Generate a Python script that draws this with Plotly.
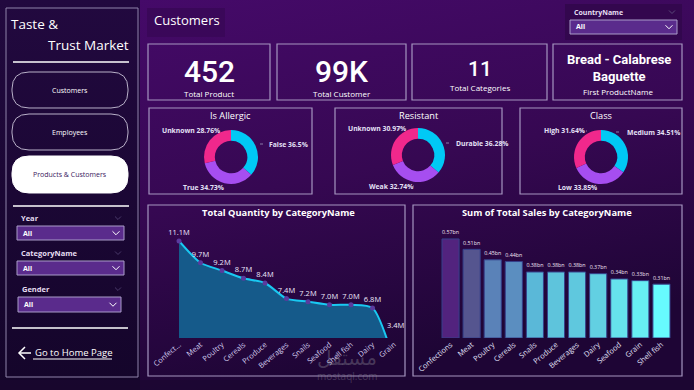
import base64
import plotly.graph_objects as go

W, H = 694, 390

# ---------------- data ----------------
kpi_values = ["452", "99K", "11", "Bread - Calabrese<br>Baguette"]
kpi_labels = ["Total Product", "Total Customer", "Total Categories", "First ProductName"]

allergic_labels = ["False", "True", "Unknown"]
allergic_values = [36.5, 34.73, 28.76]
resistant_labels = ["Durable", "Weak", "Unknown"]
resistant_values = [36.28, 32.74, 30.97]
class_labels = ["Medium", "Low", "High"]
class_values = [34.51, 33.85, 31.64]

qty_categories = ["Confections", "Meat", "Poultry", "Cereals", "Produce", "Beverages",
                  "Snails", "Seafood", "Shell fish", "Dairy", "Grain"]
qty_ticklabels = ["Confect...", "Meat", "Poultry", "Cereals", "Produce", "Beverages",
                  "Snails", "Seafood", "Shell fish", "Dairy", "Grain"]
qty_values = [11.1, 9.7, 9.2, 8.7, 8.4, 7.4, 7.2, 7.0, 7.0, 6.8, 3.4]

sales_categories = ["Confections", "Meat", "Poultry", "Cereals", "Snails", "Produce",
                    "Beverages", "Dairy", "Seafood", "Grain", "Shell fish"]
sales_values = [0.57, 0.51, 0.45, 0.44, 0.38, 0.38, 0.38, 0.37, 0.34, 0.33, 0.31]

slicers = ["Year", "CategoryName", "Gender"]
nav_buttons = ["Customers", "Employees", "Products & Customers"]

# ---------------- style ----------------
FONT = "Open Sans"
CYAN, PURPLE, PINK = "#00c9f5", "#a64ef0", "#f0288c"
BORDER = "#a596c0"
bar_colors = ["#52237e", "#55558f", "#5a82b8", "#5b8ec0", "#5ab8d8", "#5ec4dc",
              "#5fc8de", "#62d0e2", "#66e2ec", "#67eef3", "#67fbfe"]


def px(x):
    return x / W


def py(y):
    return 1 - y / H


shapes = []
annotations = []


def rect(x0, y0, x1, y1, line=BORDER, fill=None, width=1, opacity=1):
    shapes.append(dict(type="rect", xref="paper", yref="paper",
                       x0=px(x0), x1=px(x1), y0=py(y1), y1=py(y0),
                       line=dict(color=line if line else "rgba(0,0,0,0)", width=width if line else 0),
                       fillcolor=fill if fill else "rgba(0,0,0,0)", opacity=opacity,
                       layer="below"))


def hline(x0, x1, y, color="#ffffff", width=1.5, dash="solid"):
    shapes.append(dict(type="line", xref="paper", yref="paper",
                       x0=px(x0), x1=px(x1), y0=py(y), y1=py(y),
                       line=dict(color=color, width=width, dash=dash)))


def path(pts, color, width=1):
    d = "M " + " L ".join(f"{px(x):.5f},{py(y):.5f}" for x, y in pts)
    shapes.append(dict(type="path", xref="paper", yref="paper", path=d,
                       line=dict(color=color, width=width),
                       fillcolor="rgba(0,0,0,0)"))


def rrect(x0, y0, x1, y1, r, line, fill=None, width=1):
    P = lambda x, y: f"{px(x):.5f},{py(y):.5f}"
    d = (f"M {P(x0 + r, y0)} L {P(x1 - r, y0)} Q {P(x1, y0)} {P(x1, y0 + r)} "
         f"L {P(x1, y1 - r)} Q {P(x1, y1)} {P(x1 - r, y1)} L {P(x0 + r, y1)} "
         f"Q {P(x0, y1)} {P(x0, y1 - r)} L {P(x0, y0 + r)} Q {P(x0, y0)} {P(x0 + r, y0)} Z")
    shapes.append(dict(type="path", xref="paper", yref="paper", path=d,
                       line=dict(color=line, width=width),
                       fillcolor=fill if fill else "rgba(0,0,0,0)"))


def ann(x, y, text, size=8, color="#ffffff", xanchor="center", family=FONT,
        yanchor="middle", weight="normal"):
    annotations.append(dict(x=px(x), y=py(y), xref="paper", yref="paper", text=text,
                            showarrow=False, xanchor=xanchor, yanchor=yanchor,
                            font=dict(size=size, color=color, family=family, weight=weight)))


def chevron(x, y, color="#ffffff", s=3.5, width=1):
    path([(x - s, y - s / 2), (x, y + s / 2), (x + s, y - s / 2)], color, width)


# ---------------- background (svg gradient) ----------------
svg = f'''<svg xmlns="http://www.w3.org/2000/svg" width="{W}" height="{H}" preserveAspectRatio="none">
<defs>
<linearGradient id="g" x1="0" y1="0" x2="0.35" y2="1">
<stop offset="0" stop-color="#470a6c"/><stop offset="0.55" stop-color="#360852"/><stop offset="1" stop-color="#1e0535"/>
</linearGradient>
<linearGradient id="l" x1="0" y1="0" x2="0" y2="1">
<stop offset="0" stop-color="#22093f"/><stop offset="1" stop-color="#14052a"/>
</linearGradient>
</defs>
<rect width="{W}" height="{H}" fill="url(#g)"/>
<rect x="0" y="0" width="140" height="{H}" fill="url(#l)"/>
<rect x="0" y="380" width="{W}" height="10" fill="#1a0630" opacity="0.6"/>
</svg>'''
bg_uri = "data:image/svg+xml;base64," + base64.b64encode(svg.encode()).decode()

# ---------------- left panel ----------------
rect(6, 8, 138, 377, line="#8f84aa", width=1)
ann(9, 24, "Taste &", size=13.5, xanchor="left")
ann(131, 45, "Trust Market", size=13.5, xanchor="right")
hline(13, 129, 62)

btn_y = [(72, 108), (114, 150), (156, 193)]
for i, (name, (y0, y1)) in enumerate(zip(nav_buttons, btn_y)):
    active = i == len(nav_buttons) - 1
    rrect(12, y0, 128, y1, 17, line="#b8b0c8" if not active else "#ffffff",
          fill="#ffffff" if active else None, width=1)
    ann(70, (y0 + y1) / 2, name, size=7, color="#3a2060" if active else "#ffffff")

hline(13, 129, 206)

slicer_pos = [(218, 226, 240, 17, 124), (253, 261, 275, 17, 124), (289, 297, 312, 18, 121)]
for name, (ly, y0, y1, x0, x1) in zip(slicers, slicer_pos):
    ann(x0 + 2, ly, "<b>" + name + "</b>", size=7.5, color="#e6def2", xanchor="left")
    chevron(118, ly, color="#4a3a6a", s=3, width=1)
    rect(x0, y0, x1, y1, line="#a99cc8", fill="#5a2b8c", width=1)
    ann(x0 + 4, (y0 + y1) / 2, "<b>All</b>", size=7, xanchor="left")
    chevron(x1 - 8, (y0 + y1) / 2, color="#ffffff", s=3.5, width=1)

hline(12, 128, 328)
path([(31, 353), (19, 353)], "#ffffff", 1.5)
path([(25, 347), (19, 353), (25, 359)], "#ffffff", 1.5)
ann(33, 352, "Go to Home Page", size=9.5, xanchor="left")
hline(33, 112, 359, width=1)

# ---------------- header ----------------
rect(147, 8, 225, 37, line=None, fill="#3a0858", opacity=0.9)
ann(152, 20, "Customers", size=13, xanchor="left")

rect(565, 4, 682, 40, line=None, fill="#32084c", opacity=0.9)
ann(572, 12, "<b>CountryName</b>", size=7, color="#e6def2", xanchor="left")
chevron(672, 12, color="#5a4a7a", s=3, width=1)
rect(570, 20, 677, 34, line="#a99cc8", fill="#5a2b8c", width=1)
ann(574, 27, "<b>All</b>", size=7, xanchor="left")
chevron(669, 27, color="#ffffff", s=3.5, width=1)

# ---------------- KPI cards ----------------
kpi_boxes = [(148, 270), (277, 406), (412, 547), (553, 682)]
for i, ((x0, x1), v, lab) in enumerate(zip(kpi_boxes, kpi_values, kpi_labels)):
    rect(x0, 44, x1, 100, line=BORDER, width=1.2)
    cx = (x0 + x1) / 2
    if i < 2:
        ann(cx, 71, v, size=30, family="Roboto", weight=500)
        ann(cx, 93, lab, size=8)
    elif i == 2:
        ann(cx, 69, v, size=21, family="Roboto", weight=500)
        ann(cx, 88, lab, size=8)
    else:
        ann(cx + 1, 68, "<b>" + v.replace("<br>", "</b><br><b>") + "</b>", size=13, family="Roboto")
        ann(cx, 91, lab, size=8)

# ---------------- donut cards ----------------
donuts = [
    ("Is Allergic", allergic_labels, allergic_values, (149, 312), (231, 157),
     [(267, 144, 260, 265), (181, 187, 216, 222), (160, 131, None, None)]),
    ("Resistant", resistant_labels, resistant_values, (335, 502), (418, 155),
     [(454, 143, 446, 452), (367, 186, 407, 414), (346, 129, 397, 403)]),
    ("Class", class_labels, class_values, (520, 682), (601, 157),
     [(625, 132, 616, 622), (556, 187, 590, 597), (542, 131, 580, 587)]),
]
R = 27
pie_traces = []
for title, labels, values, (x0, x1), (cx, cy), lab_pos in donuts:
    rect(x0, 108, x1, 194, line=BORDER, width=1.2)
    ann((x0 + x1) / 2, 115, title, size=9.2)
    pie_traces.append(go.Pie(
        labels=labels, values=values, hole=0.6, sort=False, direction="clockwise",
        rotation=0, textinfo="none", hoverinfo="label+percent", showlegend=False,
        automargin=False,
        marker=dict(colors=[CYAN, PURPLE, PINK], line=dict(width=0)),
        domain=dict(x=[px(cx - R), px(cx + R)], y=[py(cy + R), py(cy - R)])))
    for lab, val, (lx, ly, d0, d1) in zip(labels, values, lab_pos):
        txt = f"{lab} {val:g}%"
        ann(lx, ly, "<b>" + txt + "</b>", size=6.8, color="#e4e0f6", xanchor="left")
        if d0 is not None:
            hline(d0, d1, ly, color="#8a7aa8", width=1, dash="dot")

# ---------------- bottom chart cards ----------------
rect(148, 205, 405, 376, line=BORDER, width=1.2)
ann(278, 213, "<b>Total Quantity by CategoryName</b>", size=9.3)
rect(413, 205, 682, 376, line=BORDER, width=1.2)
ann(547, 213, "<b>Sum of Total Sales by CategoryName</b>", size=9.3)

# watermark
ann(347, 358, "مستقل", size=20, color="rgba(150,150,160,0.35)", family="DejaVu Sans")
ann(347, 376, "mostaql.com", size=10, color="rgba(150,150,160,0.35)")

YMIN_Q, YMAX_Q = 4.87, 11.93

area = go.Scatter(
    x=qty_categories, y=qty_values, xaxis="x", yaxis="y",
    mode="lines",
    line=dict(color="#19c9f2", width=2, shape="spline", smoothing=0.7),
    fill="tozeroy", fillcolor="#155a8a",
    showlegend=False, hoverinfo="x+y")

in_range = [i for i, v in enumerate(qty_values) if v >= YMIN_Q]
points = go.Scatter(
    x=[qty_categories[i] for i in in_range], y=[qty_values[i] for i in in_range],
    xaxis="x", yaxis="y", mode="markers+text",
    marker=dict(size=5, color="#5a3b9e"),
    text=[f"{qty_values[i]:.1f}M" for i in in_range], textposition="top center",
    textfont=dict(size=7.5, color="#ece6fa", family=FONT),
    cliponaxis=False, showlegend=False, hoverinfo="x+y")

# values below the visible axis range sit on the axis floor (as in the source visual)
for i, v in enumerate(qty_values):
    if v < YMIN_Q:
        annotations.append(dict(x=qty_categories[i], y=YMIN_Q, xref="x", yref="y",
                                text=f"{v:.1f}M", showarrow=False, yshift=13, xshift=2,
                                font=dict(size=7.5, color="#ece6fa", family=FONT)))

bars = go.Bar(
    x=sales_categories, y=sales_values, xaxis="x2", yaxis="y2",
    marker=dict(color=bar_colors, line=dict(color="#35408a", width=1)),
    text=[f"{v:.2f}bn" for v in sales_values], textposition="outside",
    textfont=dict(size=7, color="#f2e4f4", family=FONT),
    cliponaxis=False, showlegend=False, hoverinfo="x+y")

fig = go.Figure(data=[area, points, bars] + pie_traces)
fig.update_layout(
    width=W, height=H, margin=dict(l=0, r=0, t=0, b=0, pad=0, autoexpand=False),
    autosize=False,
    paper_bgcolor="#2c0848", plot_bgcolor="rgba(0,0,0,0)",
    font=dict(family=FONT, color="#ffffff"),
    bargap=0.19, showlegend=False,
    images=[dict(source=bg_uri, xref="paper", yref="paper", x=0, y=1, sizex=1, sizey=1,
                 sizing="stretch", layer="below", xanchor="left", yanchor="top")],
    xaxis=dict(domain=[px(179), px(394)], type="category", range=[0, 10],
               categoryorder="array", categoryarray=qty_categories,
               tickvals=qty_categories, ticktext=qty_ticklabels,
               tickangle=-40, tickfont=dict(size=7.5, color="#d6cff0"),
               showgrid=False, zeroline=False, showline=False, ticks="", anchor="y",
               automargin=False),
    yaxis=dict(domain=[py(338), py(228)], range=[YMIN_Q, YMAX_Q], visible=False, anchor="x",
               automargin=False),
    xaxis2=dict(domain=[px(440), px(672)], type="category", range=[-0.5, 10.5],
                tickangle=-40, tickfont=dict(size=7.5, color="#e2e2fa"),
                showgrid=False, zeroline=False, showline=False, ticks="", anchor="y2",
                automargin=False),
    yaxis2=dict(domain=[py(338), py(228)], range=[0, 0.633], visible=False, anchor="x2",
                automargin=False),
    shapes=shapes, annotations=annotations,
)
fig.write_html("out.html", config={"displayModeBar": False},
               post_script="document.body.style.margin='0';")
